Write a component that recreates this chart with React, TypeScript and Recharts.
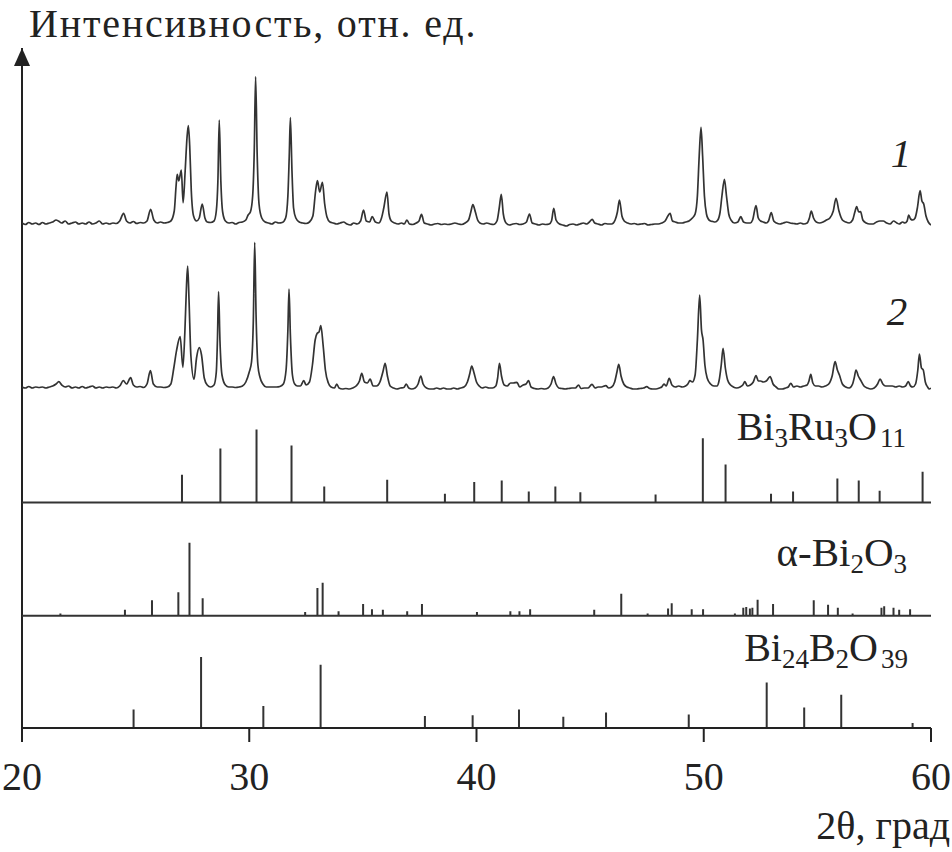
import React from 'react';
import { ComposedChart, Line, XAxis, YAxis, ReferenceLine, ReferenceDot } from 'recharts';

// ---------- data ----------
const xTicks = [20, 30, 40, 50, 60];

// curve 1: [2θ, intensity (a.u.)]
const trace1: [number, number][] = [
  [20.0, 3], [20.15, 1.5], [20.3, 3.5], [20.45, 2], [20.6, 3], [20.75, 1.5], [20.9, 3.5], [21.05, 2], [21.2, 3], [21.35, 4],
  [21.5, 6], [21.6, 5], [21.75, 3], [21.9, 5], [22.05, 2], [22.2, 3], [22.35, 4], [22.5, 2], [22.65, 3], [22.8, 2],
  [22.95, 4], [23.1, 2], [23.25, 3], [23.4, 5], [23.55, 2], [23.7, 3], [23.85, 2], [24.0, 3], [24.15, 2.5], [24.3, 5],
  [24.47, 12.7], [24.6, 5], [24.75, 3], [24.9, 4.5], [25.05, 2.5], [25.2, 3.5], [25.35, 3], [25.5, 5], [25.66, 16.7], [25.8, 6],
  [25.95, 3], [26.1, 4], [26.25, 3], [26.4, 3.5], [26.55, 5], [26.7, 15], [26.78, 40], [26.83, 51.7], [26.9, 45], [27.01, 56],
  [27.09, 23.3], [27.18, 55], [27.26, 88], [27.32, 100.3], [27.38, 80], [27.45, 35], [27.55, 10], [27.68, 5], [27.8, 8], [27.93, 22],
  [28.05, 8], [28.15, 4], [28.3, 3.5], [28.45, 5], [28.55, 15], [28.62, 45], [28.68, 106], [28.75, 45], [28.83, 14], [28.95, 5],
  [29.1, 3], [29.25, 3.5], [29.4, 2], [29.55, 3.5], [29.7, 4], [29.85, 6], [29.95, 11], [30.05, 14], [30.15, 30], [30.22, 75],
  [30.28, 149.3], [30.35, 70], [30.43, 22], [30.55, 8], [30.7, 4], [30.85, 3], [31.0, 2], [31.15, 4], [31.3, 3], [31.45, 3.5],
  [31.6, 8], [31.7, 30], [31.76, 70], [31.81, 108.3], [31.88, 55], [31.95, 18], [32.05, 8], [32.2, 4], [32.35, 3], [32.5, 2.5],
  [32.65, 4], [32.8, 10], [32.92, 35], [33.0, 45.3], [33.1, 34], [33.22, 43.7], [33.32, 22], [33.42, 9], [33.55, 4], [33.7, 3],
  [33.85, 2], [34.0, 3], [34.15, 4], [34.3, 2], [34.45, 1], [34.6, 3], [34.75, 2], [34.9, 5], [35.03, 16], [35.15, 5],
  [35.3, 4], [35.41, 9.3], [35.55, 4], [35.7, 3], [35.82, 8], [35.92, 18], [36.06, 34], [36.15, 12], [36.25, 5], [36.4, 3],
  [36.55, 2], [36.7, 3], [36.82, 2], [36.94, 6], [37.05, 2], [37.2, 1.5], [37.35, 3], [37.47, 5], [37.58, 11.7], [37.7, 3],
  [37.85, 2], [38.0, 1], [38.15, 2], [38.3, 2.5], [38.45, 1.5], [38.6, 2], [38.75, 1.5], [38.9, 2], [39.05, 3], [39.2, 2],
  [39.35, 1.5], [39.5, 3], [39.65, 6], [39.75, 14], [39.84, 21.3], [39.95, 14], [40.05, 6], [40.15, 3], [40.3, 2], [40.45, 3],
  [40.6, 2], [40.75, 1.5], [40.9, 5], [41.0, 18], [41.09, 31.7], [41.18, 12], [41.3, 3], [41.45, 1], [41.6, 2], [41.75, 2.5],
  [41.9, 1.5], [42.05, 2], [42.2, 4], [42.33, 12], [42.45, 3], [42.6, 2], [42.75, 1], [42.9, 2], [43.05, 1.5], [43.2, 2],
  [43.3, 5], [43.4, 17.7], [43.5, 6], [43.65, 2], [43.8, 1], [43.95, 0], [44.1, 1.5], [44.25, 2], [44.4, 1], [44.55, 2],
  [44.7, 3], [44.85, 2], [44.97, 4], [45.09, 6.7], [45.2, 3], [45.35, 2], [45.5, 1], [45.65, 2.5], [45.8, 2], [45.95, 2],
  [46.1, 6], [46.2, 14], [46.29, 26], [46.4, 10], [46.5, 5], [46.65, 3], [46.8, 2], [46.95, 2.5], [47.1, 1.5], [47.25, 2],
  [47.4, 2.5], [47.55, 1], [47.7, 1.5], [47.85, 2], [48.0, 2], [48.15, 3], [48.3, 5], [48.42, 10], [48.52, 12.7], [48.62, 5],
  [48.75, 4], [48.9, 3], [49.05, 3], [49.2, 4], [49.35, 5], [49.5, 8], [49.62, 12], [49.72, 30], [49.8, 70], [49.88, 98.7],
  [49.95, 70], [50.03, 30], [50.12, 12], [50.2, 7], [50.3, 5], [50.4, 4.5], [50.5, 4], [50.62, 6], [50.72, 14], [50.8, 30],
  [50.91, 46.7], [51.0, 30], [51.1, 12], [51.2, 6], [51.35, 3], [51.5, 4], [51.63, 9.3], [51.75, 4], [51.9, 3], [52.05, 3],
  [52.15, 6], [52.3, 20.3], [52.4, 8], [52.5, 5], [52.62, 4], [52.75, 3], [52.85, 5], [52.97, 13.3], [53.08, 5], [53.2, 3],
  [53.35, 2], [53.5, 3], [53.65, 4], [53.8, 3], [53.95, 2.5], [54.1, 2], [54.25, 3], [54.4, 2], [54.55, 3], [54.65, 8],
  [54.73, 15], [54.83, 8], [54.95, 4], [55.1, 3], [55.25, 4], [55.4, 6], [55.55, 8], [55.7, 15], [55.82, 27.7], [55.95, 15],
  [56.1, 6], [56.25, 4], [56.4, 3], [56.55, 6], [56.65, 14], [56.73, 19.3], [56.82, 14], [56.9, 14.3], [57.0, 6], [57.15, 3],
  [57.3, 2], [57.45, 2], [57.6, 4], [57.75, 5], [57.9, 5], [58.05, 3], [58.2, 2], [58.35, 5], [58.5, 3], [58.6, 2],
  [58.75, 4], [58.85, 3], [58.95, 5], [59.02, 11], [59.1, 7], [59.2, 6], [59.3, 8], [59.4, 18], [59.52, 35.3], [59.6, 25],
  [59.68, 22], [59.78, 10], [59.88, 4], [60.0, 1],
];

// curve 2: [2θ, intensity (a.u.)]
const trace2: [number, number][] = [
  [20.0, 3], [20.15, 2], [20.3, 3.5], [20.45, 2], [20.6, 3], [20.75, 2.5], [20.9, 3], [21.05, 2], [21.2, 3], [21.35, 4],
  [21.5, 6], [21.62, 8.3], [21.75, 5], [21.9, 3], [22.05, 4], [22.2, 2], [22.35, 3], [22.5, 2], [22.65, 3.5], [22.8, 2],
  [22.95, 3], [23.1, 4], [23.25, 2], [23.4, 3], [23.55, 2], [23.7, 3], [23.85, 2.5], [24.0, 3], [24.15, 2], [24.3, 4],
  [24.46, 9.3], [24.6, 6], [24.78, 12.3], [24.9, 5], [25.05, 3], [25.2, 3.5], [25.35, 2.5], [25.5, 6], [25.65, 19.3], [25.78, 6],
  [25.95, 3], [26.1, 3], [26.25, 2.5], [26.4, 3], [26.55, 6], [26.68, 22], [26.8, 39.3], [26.96, 53.3], [27.08, 22.7], [27.17, 60],
  [27.24, 105], [27.29, 124], [27.35, 90], [27.43, 35], [27.57, 10.7], [27.68, 32], [27.8, 42.3], [27.9, 35], [28.02, 12], [28.15, 5],
  [28.3, 3], [28.45, 5], [28.55, 18], [28.6, 50], [28.65, 98.3], [28.71, 50], [28.8, 15], [28.95, 5], [29.1, 3], [29.25, 3],
  [29.4, 2.5], [29.55, 3], [29.7, 4], [29.85, 8], [30.0, 18], [30.1, 28], [30.18, 70], [30.24, 147.7], [30.3, 75], [30.38, 25],
  [30.47, 13], [30.6, 6], [30.75, 3], [30.9, 3], [31.05, 3], [31.2, 3], [31.35, 3.5], [31.5, 6], [31.62, 20], [31.7, 60],
  [31.75, 101], [31.81, 55], [31.9, 15], [32.0, 6], [32.12, 4], [32.25, 4], [32.4, 9.3], [32.5, 5], [32.65, 8], [32.78, 25],
  [32.9, 50], [32.99, 56.7], [33.07, 58], [33.15, 64.3], [33.25, 45], [33.35, 20], [33.48, 7], [33.6, 3], [33.75, 2], [33.85, 6],
  [33.95, 2], [34.1, 1], [34.25, 1.5], [34.4, 1], [34.55, 2], [34.7, 4], [34.85, 9], [34.95, 16.7], [35.07, 8], [35.2, 7],
  [35.32, 11], [35.45, 4], [35.6, 4], [35.75, 8], [35.88, 18], [35.98, 26.7], [36.08, 14], [36.2, 4], [36.35, 2], [36.5, 1],
  [36.65, 2], [36.8, 2.5], [36.91, 6], [37.02, 2], [37.15, 1], [37.3, 2], [37.43, 6], [37.55, 14], [37.65, 6], [37.8, 2],
  [37.95, 1], [38.1, 1], [38.25, 2], [38.4, 1], [38.55, 2], [38.7, 1], [38.85, 1], [39.0, 2], [39.15, 1], [39.3, 2],
  [39.45, 3], [39.6, 8], [39.7, 16], [39.79, 24], [39.88, 18], [40.0, 8], [40.12, 4], [40.25, 2], [40.4, 3], [40.55, 2],
  [40.7, 2], [40.85, 4], [40.93, 12], [41.01, 26.7], [41.1, 14], [41.22, 5], [41.35, 4], [41.5, 7], [41.62, 7], [41.78, 7.7],
  [41.9, 3], [42.05, 5], [42.18, 6], [42.29, 9.3], [42.4, 3], [42.55, 1.5], [42.7, 1], [42.85, 1.5], [43.0, 1], [43.15, 2],
  [43.28, 6], [43.39, 13.3], [43.5, 6], [43.62, 2], [43.75, 1.5], [43.9, 1], [44.05, 1.5], [44.2, 2], [44.35, 2], [44.49, 5],
  [44.6, 1.5], [44.75, 2], [44.9, 2], [45.08, 5.7], [45.22, 2], [45.35, 3], [45.5, 3], [45.69, 4.3], [45.82, 2], [45.95, 3],
  [46.08, 8], [46.18, 18], [46.26, 25.7], [46.36, 14], [46.48, 6], [46.62, 3], [46.75, 2], [46.9, 1], [47.05, 1], [47.2, 1.5],
  [47.35, 2], [47.49, 3.3], [47.62, 1.5], [47.75, 1], [47.9, 1], [48.05, 2], [48.15, 3], [48.25, 6], [48.35, 4], [48.48, 11.7],
  [48.6, 5], [48.75, 3], [48.9, 4], [49.05, 3], [49.2, 4], [49.3, 6], [49.39, 9.3], [49.5, 8], [49.62, 15], [49.72, 50],
  [49.82, 95], [49.9, 60], [49.97, 50], [50.05, 25], [50.15, 12], [50.3, 6], [50.45, 4], [50.58, 4], [50.68, 10], [50.77, 25],
  [50.85, 41.7], [50.95, 22], [51.05, 10], [51.18, 5], [51.3, 3], [51.45, 2], [51.6, 3], [51.72, 5], [51.81, 8.3], [51.92, 4],
  [52.05, 5], [52.18, 8], [52.3, 14.3], [52.4, 9], [52.5, 9], [52.62, 8], [52.75, 9], [52.92, 13.3], [53.05, 6], [53.18, 3],
  [53.3, 1], [53.45, 1], [53.6, 2], [53.72, 3], [53.83, 6.7], [53.95, 3], [54.1, 4], [54.25, 3], [54.4, 4], [54.55, 5],
  [54.63, 9], [54.71, 15.7], [54.8, 7], [54.92, 4], [55.05, 4], [55.2, 3], [55.35, 4], [55.5, 6], [55.65, 14], [55.78, 28.3],
  [55.88, 20], [55.97, 15], [56.1, 6], [56.25, 3], [56.4, 2], [56.55, 6], [56.62, 12], [56.7, 20], [56.8, 14], [56.9, 10],
  [57.05, 4], [57.2, 2], [57.35, 1], [57.5, 2], [57.65, 6], [57.76, 11], [57.88, 6], [58.0, 4], [58.15, 4], [58.3, 4],
  [58.45, 3], [58.6, 4], [58.75, 3], [58.88, 4], [59.0, 8.3], [59.1, 4], [59.2, 3], [59.32, 6], [59.42, 20], [59.49, 36],
  [59.58, 22], [59.66, 20], [59.75, 8], [59.85, 3], [59.93, 1], [60.0, 2],
];

// reference patterns: [2θ, I/I0 (%)]
const bi3ru3o11: [number, number][] = [
  [27.04, 38], [28.73, 74], [30.32, 100], [31.86, 78], [33.30, 22], [36.07, 31], [38.61, 12], [39.90, 28],
  [41.11, 30], [42.30, 15], [43.47, 22], [44.57, 14], [47.88, 11], [49.96, 88], [50.96, 52], [52.96, 12],
  [53.93, 15], [55.88, 33], [56.82, 30], [57.74, 16], [59.63, 42],
];

const alphaBi2O3: [number, number][] = [
  [21.69, 3], [24.53, 8], [25.72, 21], [26.88, 32], [27.37, 100], [27.95, 24], [32.46, 5], [33.00, 38],
  [33.23, 45], [33.93, 6], [35.01, 16], [35.40, 9], [35.88, 8], [36.95, 6], [37.60, 16], [40.02, 5],
  [41.49, 6], [41.89, 6], [42.36, 9], [45.18, 8], [46.37, 30], [47.53, 3], [48.43, 10], [48.59, 17],
  [49.47, 9], [49.97, 9], [51.37, 3], [51.74, 11], [51.87, 12], [52.03, 10], [52.14, 11], [52.37, 22],
  [53.05, 16], [54.84, 21], [55.47, 15], [55.90, 11], [56.55, 3], [57.82, 11], [57.94, 13], [58.35, 11],
  [58.60, 8], [59.08, 9],
];

const bi24b2o39: [number, number][] = [
  [24.91, 26], [27.88, 100], [30.62, 31], [33.14, 89], [37.73, 17], [39.83, 18], [41.87, 26], [43.82, 16],
  [45.70, 22], [49.34, 19], [52.77, 64], [54.42, 29], [56.05, 47], [59.19, 7],
];

// ---------- layout (offsets of the stacked panels, in y-axis units) ----------
const Y_MAX = 680;
const OFF_T1 = 502;
const OFF_T2 = 338;
const OFF_BRO = 225.5;
const OFF_ABO = 112.3;
const OFF_BBO = 0;
const SCALE_BRO = 0.73;
const SCALE_ABO = 0.73;
const SCALE_BBO = 0.71;

const toTrace = (pts: [number, number][], off: number) => pts.map(([x, i]) => ({ x, y: off + i }));
const toSticks = (pts: [number, number][], off: number, sc: number) =>
  pts.flatMap(([x, i]) => [
    { x, y: off },
    { x, y: off + i * sc },
    { x, y: null as number | null },
  ]);

const t1Data = toTrace(trace1, OFF_T1);
const t2Data = toTrace(trace2, OFF_T2);
const broData = toSticks(bi3ru3o11, OFF_BRO, SCALE_BRO);
const aboData = toSticks(alphaBi2O3, OFF_ABO, SCALE_ABO);
const bboData = toSticks(bi24b2o39, OFF_BBO, SCALE_BBO);

const SERIF = '"Liberation Serif", "Times New Roman", Times, serif';
const INK = '#222';
const LINE = '#333';

const Arrow = (props: any) => {
  const { cx, cy } = props;
  return <path d={`M${cx},${cy} L${cx - 8},${cy + 18} L${cx + 8},${cy + 18} Z`} fill={INK} />;
};

const XTick = (props: any) => {
  const { x, y, payload } = props;
  return (
    <text x={x} y={y} dy={28} textAnchor="middle" fill={INK} style={{ fontFamily: SERIF, fontSize: 40 }}>
      {payload.value}
    </text>
  );
};

export default function App() {
  const sub = { fontSize: 27 } as const;
  return (
    <div style={{ position: 'absolute', left: 0, top: 0, width: 952, height: 852, background: '#fff' }}>
      <ComposedChart width={952} height={852} margin={{ top: 48, right: 21, left: 22, bottom: 94 }}>
        <XAxis
          type="number"
          dataKey="x"
          domain={[20, 60]}
          ticks={xTicks}
          allowDataOverflow
          height={30}
          tickSize={14}
          tickMargin={20}
          axisLine={{ stroke: INK, strokeWidth: 2 }}
          tickLine={{ stroke: INK, strokeWidth: 2 }}
          tick={XTick}
        />
        <YAxis type="number" domain={[0, Y_MAX]} hide allowDataOverflow />
        <ReferenceLine x={20} stroke={INK} strokeWidth={2} />
        <ReferenceLine y={OFF_ABO} stroke={LINE} strokeWidth={2} />
        <ReferenceLine y={OFF_BRO} stroke={LINE} strokeWidth={2} />
        <ReferenceDot x={20} y={Y_MAX} r={8} shape={Arrow} ifOverflow="visible" />
        <Line data={t1Data} dataKey="y" type="monotone" stroke={LINE} strokeWidth={1.7} dot={false} activeDot={false} isAnimationActive={false} />
        <Line data={t2Data} dataKey="y" type="monotone" stroke={LINE} strokeWidth={1.7} dot={false} activeDot={false} isAnimationActive={false} />
        <Line data={broData} dataKey="y" type="linear" stroke={LINE} strokeWidth={2} dot={false} activeDot={false} connectNulls={false} isAnimationActive={false} />
        <Line data={aboData} dataKey="y" type="linear" stroke={LINE} strokeWidth={2} dot={false} activeDot={false} connectNulls={false} isAnimationActive={false} />
        <Line data={bboData} dataKey="y" type="linear" stroke={LINE} strokeWidth={2} dot={false} activeDot={false} connectNulls={false} isAnimationActive={false} />
      </ComposedChart>
      <svg width={952} height={852} style={{ position: 'absolute', left: 0, top: 0, pointerEvents: 'none', fontFamily: SERIF }} fill={INK}>
        <text x={29} y={37} fontSize={40} letterSpacing={1.8}>Интенсивность, отн. ед.</text>
        <text x={901} y={167} fontSize={41} fontStyle="italic" textAnchor="middle">1</text>
        <text x={897} y={325} fontSize={41} fontStyle="italic" textAnchor="middle">2</text>
        <text x={906} y={440} fontSize={40} textAnchor="end">
          Bi<tspan {...sub} dy={7}>3</tspan><tspan dy={-7}>Ru</tspan><tspan {...sub} dy={7}>3</tspan><tspan dy={-7}>O</tspan><tspan {...sub} dy={7} dx={3}>11</tspan>
        </text>
        <text x={907} y={566} fontSize={41} textAnchor="end">
          α-Bi<tspan {...sub} dy={7}>2</tspan><tspan dy={-7}>O</tspan><tspan {...sub} dy={7}>3</tspan>
        </text>
        <text x={908} y={661} fontSize={40} textAnchor="end">
          Bi<tspan {...sub} dy={7}>24</tspan><tspan dy={-7}>B</tspan><tspan {...sub} dy={7}>2</tspan><tspan dy={-7}>O</tspan><tspan {...sub} dy={7} dx={3}>39</tspan>
        </text>
        <text x={950} y={839} fontSize={40} textAnchor="end">2θ, град</text>
      </svg>
    </div>
  );
}
